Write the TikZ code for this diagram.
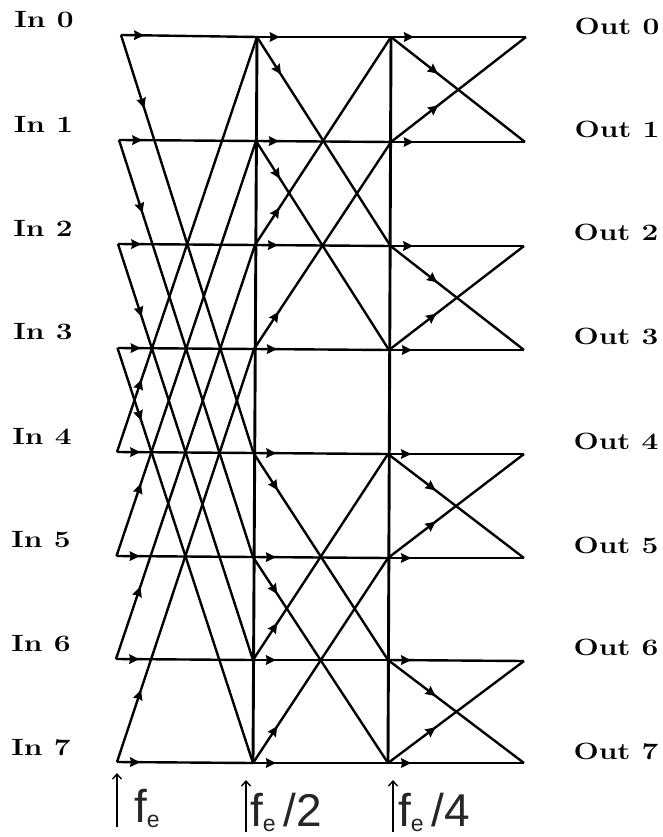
\documentclass[tikz,border=0pt]{standalone}
\usepackage{fontspec}
\usetikzlibrary{arrows.meta,decorations.markings}
\newfontfamily\freqfont{Liberation Sans}
\newcommand{\esub}{\raisebox{-5pt}{\fontsize{23}{23}\selectfont e}}
\tikzset{
  wire/.style={line width=2.4pt},
  rail/.style={line width=2.9pt},
  flow/.style={postaction={decorate}, decoration={markings,
    mark=at position #1 with {\arrow{Stealth[length=10pt,width=9.5pt,inset=1pt]}}}},
  portlabel/.style={font=\bfseries\fontsize{23.5}{24}\selectfont, xscale=1.27, transform shape},
  freq/.style={anchor=base west, inner sep=0pt, font=\freqfont\fontsize{46}{46}\selectfont, text=black!85},
  clock/.style={line width=1.4pt, -{Straight Barb[length=5pt,width=9pt]}}
}
\begin{document}
\begin{tikzpicture}[x=1pt, y=-1pt]
\useasboundingbox (0,0) rectangle (662,837);

\foreach \n/\x/\y in {0/121/35,1/119/140,2/118/244,3/117.5/348,4/117/452,5/116.5/556,6/116/659,7/117/762}
  \coordinate (a\n) at (\x,\y);
\foreach \n/\x/\y in {0/257/37,1/256/141,2/255/245,3/254/349,4/253.5/453,5/253/557,6/253/660,7/253/763}
  \coordinate (b\n) at (\x,\y);
\foreach \n/\x/\y in {0/391/37,1/391/142,2/390.5/246,3/389/350,4/388/454,5/388/558,6/388/660,7/388/763}
  \coordinate (c\n) at (\x,\y);
\foreach \n/\x/\y in {0/526/37,1/525/142,2/524/246,3/524/350,4/524/454,5/524/558,6/524/661,7/524/763}
  \coordinate (d\n) at (\x,\y);

% Straight wires
\foreach \i in {0,...,7} {
  \draw[wire, flow=.17] (a\i) -- (b\i);
  \draw[wire, flow=.17] (b\i) -- (c\i);
  \draw[wire, flow=.17] (c\i) -- (d\i);
}
\draw[rail] (b0) -- (b7);
\draw[rail] (c0) -- (c7);

% First stage
\foreach \i/\j in {0/4,1/5,2/6,3/7} {
  \draw[wire, flow=.175] (a\i) -- (b\j);
  \draw[wire, flow=.175] (a\j) -- (b\i);
}
% Second stage
\foreach \i/\j in {0/2,1/3,4/6,5/7} {
  \draw[wire, flow=.18] (b\i) -- (c\j);
  \draw[wire, flow=.18] (b\j) -- (c\i);
}
% Third stage
\foreach \i/\j in {0/1,2/3,4/5,6/7} {
  \draw[wire, flow=.35] (c\i) -- (d\j);
  \draw[wire, flow=.35] (c\j) -- (d\i);
}

\node[portlabel] (in0) at (44,20) {In 0};
\node[portlabel] (in1) at (43.5,124) {In 1};
\node[portlabel] (in2) at (43,228) {In 2};
\node[portlabel] (in3) at (43,332) {In 3};
\node[portlabel] (in4) at (42,436) {In 4};
\node[portlabel] (in5) at (41,540) {In 5};
\node[portlabel] (in6) at (41,644) {In 6};
\node[portlabel] (in7) at (41,748) {In 7};

\node[portlabel] (out0) at (617,26) {Out 0};
\node[portlabel] (out1) at (617,129) {Out 1};
\node[portlabel] (out2) at (616,232) {Out 2};
\node[portlabel] (out3) at (616,336) {Out 3};
\node[portlabel] (out4) at (616,441) {Out 4};
\node[portlabel] (out5) at (616,545) {Out 5};
\node[portlabel] (out6) at (616,647) {Out 6};
\node[portlabel] (out7) at (616,751) {Out 7};

\coordinate (clka) at (117,827);
\coordinate (clkb) at (246,832);
\coordinate (clkc) at (393,832);
\draw[clock] (clka) -- ++(0,-54);
\draw[clock] (clkb) -- ++(0,-52);
\draw[clock] (clkc) -- ++(0,-52);

\node[freq] (fe) at (134,822) {f\esub};
\node[freq] (fehalf) at (250,826) {f\esub\,/2};
\node[freq] (fequarter) at (398,826) {f\esub\,/4};
\end{tikzpicture}
\end{document}
